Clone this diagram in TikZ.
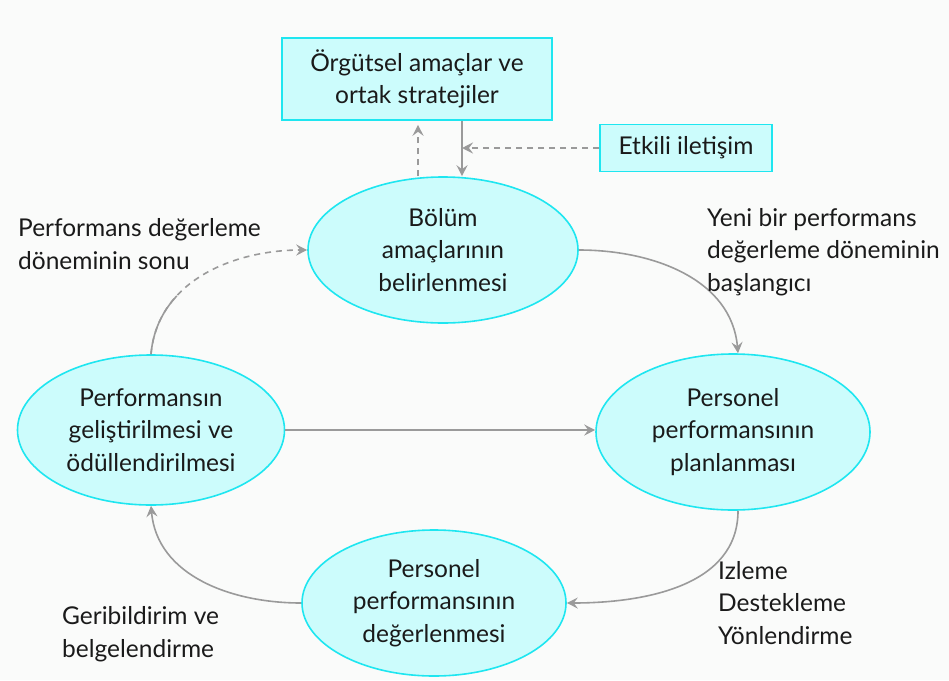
\documentclass[tikz,border=0pt]{standalone}
\usepackage{fontspec}
\setmainfont{Lato}
\usetikzlibrary{arrows.meta,shapes.geometric,calc}
\definecolor{cyanline}{HTML}{1EE6F0}
\definecolor{cyanfill}{HTML}{CCFCFC}
\definecolor{arrowgray}{HTML}{9A9A9A}
\definecolor{bgcol}{HTML}{FAFBFA}
\definecolor{txt}{HTML}{1A1A1A}
\begin{document}
\begin{tikzpicture}[x=1pt,y=-1pt,
  every node/.style={text=txt,font=\fontsize{24.5}{32.5}\selectfont},
  boxnode/.style={draw=cyanline,fill=cyanfill,line width=1.6pt,align=center,inner sep=0pt},
  ellnode/.style={ellipse,draw=cyanline,fill=cyanfill,line width=1.6pt,align=center,inner sep=0pt},
  lbl/.style={align=left,anchor=west,inner sep=0pt},
  conn/.style={draw=arrowgray,line width=1.6pt,-{Stealth[length=11pt,width=11pt,inset=4pt]}},
  dconn/.style={conn,dash pattern=on 6pt off 5pt}
]
\fill[bgcol] (0,0) rectangle (949,680);
\useasboundingbox (0,0) rectangle (949,680);

\node[boxnode,minimum width=270pt,minimum height=82pt] (top) at (417,79) {Örgütsel amaçlar ve\\ortak stratejiler};
\node[boxnode,minimum width=172pt,minimum height=47pt] (etk) at (686,148) {Etkili iletişim};

\node[ellnode,minimum width=270pt,minimum height=146pt] (bol) at (443,250) {Bölüm\\amaçlarının\\belirlenmesi};
\node[ellnode,minimum width=267pt,minimum height=150pt] (gel) at (151,430) {Performansın\\geliştirilmesi ve\\ödüllendirilmesi};
\node[ellnode,minimum width=274pt,minimum height=156pt] (pla) at (733,432) {Personel\\performansının\\planlanması};
\node[ellnode,minimum width=264pt,minimum height=146pt] (deg) at (434,603) {Personel\\performansının\\değerlenmesi};

\coordinate (m) at ($(top.south)+(45,0)$);
\draw[conn] (m) -- ($(bol.north)+(19,0)$);
\draw[dconn] ($(bol.north)+(-25,0)$) -- ($(top.south)+(1,4)$);
\draw[dconn] (etk.west) -- (etk.west -| m);

\draw[conn] (bol.east) to[out=0,in=95] ($(pla.north)+(5,0)$);
\draw[conn] (gel.east) -- (gel.east -| pla.west);
\draw[conn] ($(pla.south)+(5,0)$) to[out=-90,in=0] (deg.east);
\draw[conn] (deg.west) to[out=180,in=-85] (gel.south);
\draw[dconn] (gel.north) to[out=85,in=180] (bol.west);
\draw[draw=arrowgray,line width=1.6pt,dash pattern=on 65pt off 900pt] (gel.north) to[out=85,in=180] (bol.west);

\node[lbl] (l1) at (18,244) {Performans değerleme\\döneminin sonu};
\node[lbl] (l2) at (707,252) {Yeni bir performans\\değerleme döneminin\\başlangıcı};
\node[lbl] (l3) at (718,603) {Izleme\\Destekleme\\Yönlendirme};
\node[lbl] (l4) at (62,634) {Geribildirim ve\\belgelendirme};
\end{tikzpicture}
\end{document}
